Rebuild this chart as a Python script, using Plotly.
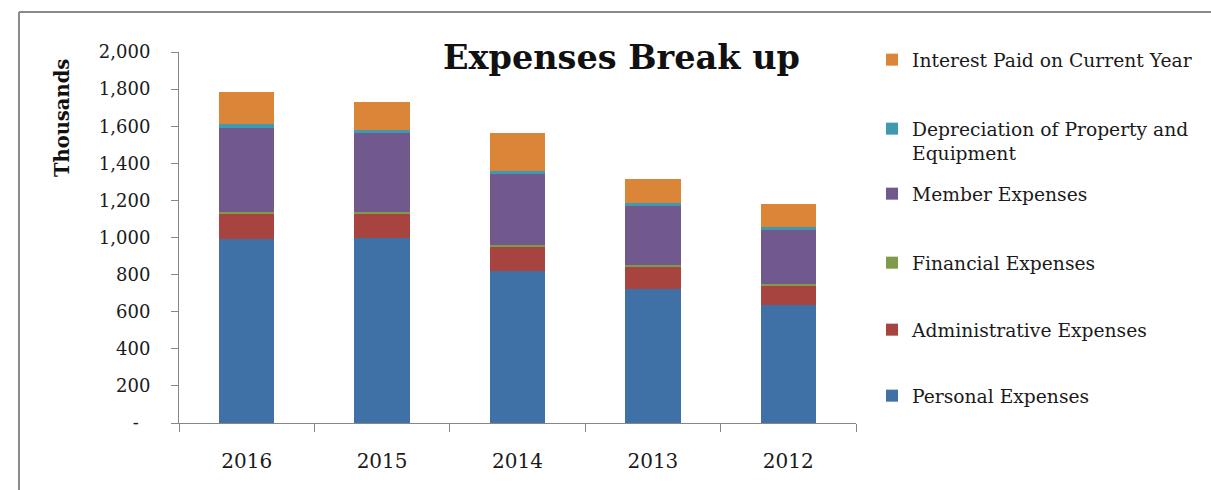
import plotly.graph_objects as go

# Expense breakdown by year (thousands)
years = ["2016", "2015", "2014", "2013", "2012"]
personal = [990, 1000, 820, 725, 635]
administrative = [140, 128, 132, 120, 108]
financial = [8, 8, 8, 8, 8]
member = [455, 428, 380, 315, 292]
depreciation = [17, 18, 18, 18, 16]
interest = [172, 150, 208, 130, 120]

y_ticks = [0, 200, 400, 600, 800, 1000, 1200, 1400, 1600, 1800, 2000]
y_tick_text = ["-\u00a0\u00a0", "200", "400", "600", "800", "1,000",
               "1,200", "1,400", "1,600", "1,800", "2,000"]

series = [
    ("Personal Expenses", personal, "#4071A6"),
    ("Administrative Expenses", administrative, "#A84440"),
    ("Financial Expenses", financial, "#7F9A48"),
    ("Member Expenses", member, "#71598E"),
    ("Depreciation of Property and<br>Equipment", depreciation, "#3F99B0"),
    ("Interest Paid on Current Year", interest, "#DB8539"),
]

W, H = 1211, 490
L, R, T, B = 179, 856, 52, 423  # plot area in pixels


def px_x(x):
    return (x - L) / (R - L)


def px_y(y):
    return (B - y) / (B - T)


serif = "DejaVu Serif"
fig = go.Figure()

# legend text rows (pixel y of each entry's centre)
legend_rows = [396, 330, 263, 194, 141, 60]

for i, (name, vals, color) in enumerate(series):
    lg = "legend" if i == 0 else f"legend{i + 1}"
    fig.add_trace(go.Bar(
        x=years, y=vals, name=name,
        marker=dict(color=color, line=dict(width=0)),
        width=0.41,
        legend=lg,
    ))

legend_layout = {}
for i, row in enumerate(legend_rows):
    key = "legend" if i == 0 else f"legend{i + 1}"
    legend_layout[key] = dict(
        x=px_x(872), y=px_y(row), xanchor="left", yanchor="middle",
        xref="paper", yref="paper",
        font=dict(family=serif, size=18.7, color="#1a1a1a"),
        bgcolor="rgba(0,0,0,0)", borderwidth=0,
        valign="top", itemclick=False, itemdoubleclick=False,
    )

fig.update_layout(
    width=W, height=H,
    margin=dict(l=L, r=W - R, t=T, b=H - B, pad=0),
    paper_bgcolor="white", plot_bgcolor="white",
    barmode="stack",
    showlegend=True,
    font=dict(family=serif, color="#1a1a1a"),
    xaxis=dict(
        type="category", showgrid=False, showline=True,
        linecolor="#868686", linewidth=1,
        ticks="outside", tickson="boundaries", ticklen=8,
        tickcolor="#868686",
        tickfont=dict(family=serif, size=20, color="#1a1a1a"),
        ticklabelstandoff=20,
    ),
    yaxis=dict(
        range=[0, 2000], showgrid=False, zeroline=False, showline=True,
        linecolor="#868686", linewidth=1,
        ticks="outside", ticklen=7, tickcolor="#868686",
        tickvals=y_ticks, ticktext=y_tick_text,
        tickfont=dict(family=serif, size=18, color="#1a1a1a"),
        ticklabelstandoff=17,
    ),
    annotations=[
        dict(text="<b>Expenses Break up</b>", x=px_x(621), y=px_y(57),
             xref="paper", yref="paper", showarrow=False,
             xanchor="center", yanchor="middle",
             font=dict(family=serif, size=33.5, color="#111111")),
        dict(text="<b>Thousands</b>", x=px_x(62), y=px_y(118),
             xref="paper", yref="paper", showarrow=False, textangle=-90,
             xanchor="center", yanchor="middle",
             font=dict(family=serif, size=19.5, color="#111111")),
    ],
    shapes=[
        dict(type="line", xref="paper", yref="paper",
             x0=px_x(19), y0=px_y(12), x1=px_x(1215), y1=px_y(12),
             line=dict(color="#8a8a8a", width=2)),
        dict(type="line", xref="paper", yref="paper",
             x0=px_x(19), y0=px_y(12), x1=px_x(19), y1=px_y(495),
             line=dict(color="#8a8a8a", width=2)),
    ],
    **legend_layout,
)

fig.write_html("out.html")
